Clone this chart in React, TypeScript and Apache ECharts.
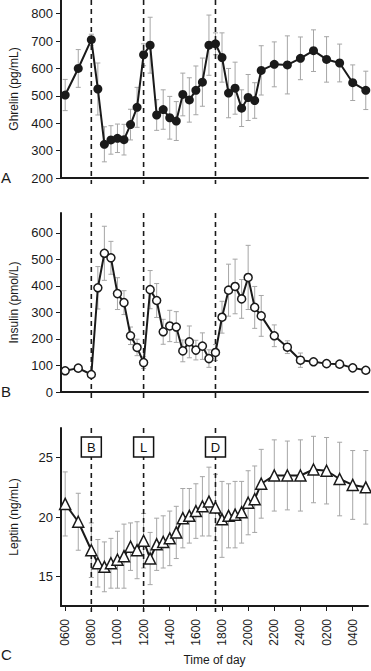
import React, { useEffect, useRef } from "react";
import * as echarts from "echarts";

// Sampling times (hours since midnight of day 1; >24 = next day)
const times = [
  6, 7, 8, 8.5, 9, 9.5, 10, 10.5, 11, 11.5, 12, 12.5, 13, 13.5, 14, 14.5, 15,
  15.5, 16, 16.5, 17, 17.5, 18, 18.5, 19, 19.5, 20, 20.5, 21, 22, 23, 24, 25,
  26, 27, 28, 29,
];

const ghrelin = [
  503, 600, 705, 525, 323, 339, 345, 340, 395, 458, 650, 685, 430, 450, 420,
  408, 505, 485, 520, 550, 685, 690, 640, 510, 528, 455, 494, 483, 593, 615,
  613, 637, 665, 633, 620, 548, 520,
];
const ghrelinErr = [
  57, 69, 20, 95, 64, 52, 52, 56, 56, 73, 40, 102, 56, 72, 78, 71, 78, 81, 89,
  88, 110, 40, 90, 90, 95, 67, 84, 65, 90, 82, 106, 78, 76, 83, 69, 65, 70,
];

const insulin = [
  80, 90, 66, 393, 523, 506, 371, 337, 212, 168, 111, 386, 345, 227, 249, 245,
  155, 189, 158, 173, 126, 149, 282, 384, 398, 351, 432, 319, 287, 212, 169,
  120, 114, 107, 105, 91, 82,
];
const insulinErr = [
  6, 6, 6, 80, 102, 62, 60, 45, 33, 31, 22, 72, 64, 47, 59, 58, 41, 60, 37, 50,
  33, 30, 60, 98, 103, 73, 121, 79, 77, 41, 24, 27, 8, 8, 8, 8, 8,
];

const leptin = [
  21.1, 19.6, 17.2, 16.1, 15.8, 16.1, 16.4, 16.7, 17.5, 17.2, 18.0, 16.5, 17.7,
  17.9, 18.2, 18.7, 19.9, 20.1, 20.5, 20.9, 21.3, 20.8, 19.8, 20.1, 20.2, 20.4,
  21.2, 21.5, 22.8, 23.5, 23.5, 23.5, 24.0, 23.9, 23.2, 22.7, 22.5,
];
const leptinErr = [
  2.7, 2.4, 2.3, 2.0, 2.1, 2.1, 2.4, 2.7, 2.0, 2.4, 2.3, 2.2, 2.2, 2.2, 2.3,
  2.2, 2.5, 2.3, 2.3, 2.5, 2.9, 2.8, 3.2, 2.7, 2.8, 2.6, 2.7, 2.8, 2.9, 3.0,
  2.9, 3.0, 2.8, 2.8, 3.1, 2.9, 3.1,
];

const mealTimes = [8, 12, 17.5];
const mealLabels = ["B", "L", "D"];
const mealBoxY = 25.9;

const xTicks = [6, 8, 10, 12, 14, 16, 18, 20, 22, 24, 26, 28];
const ghrelinTicks = [200, 300, 400, 500, 600, 700, 800];
const insulinTicks = [0, 100, 200, 300, 400, 500, 600];
const leptinTicks = [15, 20, 25];

const FONT = "'Liberation Sans', Arial, Helvetica, sans-serif";
const INK = "#1a1a1a";

export default function App() {
  const ref = useRef<HTMLDivElement>(null);

  useEffect(() => {
    if (!ref.current) return;
    const chart = echarts.init(ref.current, undefined, { renderer: "svg" });

    const grids = [
      { left: 53, right: 3, top: 0, height: 178 },
      { left: 53, right: 3, top: 213, height: 179 },
      { left: 53, right: 3, top: 428, height: 178 },
    ];

    const xAxes = [0, 1, 2].map((i) => ({
      type: "value",
      gridIndex: i,
      min: 5.68,
      max: 29.17,
      axisLine: { show: true, onZero: false, lineStyle: { color: INK, width: 2 } },
      axisTick:
        i === 2
          ? { show: true, customValues: xTicks, length: 5, lineStyle: { color: INK, width: 1 } }
          : { show: false },
      axisLabel:
        i === 2
          ? {
              show: true,
              customValues: xTicks,
              rotate: 90,
              margin: 13,
              fontSize: 12,
              color: INK,
              fontFamily: FONT,
              formatter: (v: number) => {
                const h = v > 24 ? v - 24 : v;
                return String(h).padStart(2, "0") + "00";
              },
            }
          : { show: false },
      splitLine: { show: false },
      name: i === 2 ? "Time of day" : "",
      nameLocation: "middle",
      nameGap: 48,
      nameTextStyle: { fontSize: 12, color: INK, fontFamily: FONT },
    }));

    const yCommon = (i: number, min: number, max: number, ticks: number[], name: string) => ({
      type: "value",
      gridIndex: i,
      min,
      max,
      axisLine: { show: true, lineStyle: { color: INK, width: 2 } },
      axisTick: { show: true, customValues: ticks, length: 5, lineStyle: { color: INK, width: 1 } },
      axisLabel: {
        show: true,
        customValues: ticks,
        margin: 8,
        fontSize: 13,
        color: INK,
        fontFamily: FONT,
      },
      splitLine: { show: false },
      name,
      nameLocation: "middle",
      nameRotate: 90,
      nameGap: 41,
      nameTextStyle: { fontSize: 12, color: INK, fontFamily: FONT },
    });

    const yAxes = [
      yCommon(0, 200, 850, ghrelinTicks, "Ghrelin (pg/mL)"),
      yCommon(1, 0, 675, insulinTicks, "Insulin (pmol/L)"),
      yCommon(2, 12.5, 27.5, leptinTicks, "Leptin (ng/mL)"),
    ];

    const errSeries = (i: number, vals: number[], errs: number[]) => ({
      type: "custom",
      xAxisIndex: i,
      yAxisIndex: i,
      z: 1,
      silent: true,
      encode: { x: 0, y: 1 },
      data: times.map((t, k) => [t, vals[k], errs[k]]),
      renderItem: (params: any, api: any) => {
        const x = api.value(0);
        const y = api.value(1);
        const e = api.value(2);
        const hi = api.coord([x, y + e]);
        const lo = api.coord([x, y - e]);
        const hw = 2.5;
        const st = { stroke: "#a6a6a6", lineWidth: 1 };
        return {
          type: "group",
          children: [
            { type: "line", shape: { x1: hi[0], y1: hi[1], x2: lo[0], y2: lo[1] }, style: st },
            { type: "line", shape: { x1: hi[0] - hw, y1: hi[1], x2: hi[0] + hw, y2: hi[1] }, style: st },
            { type: "line", shape: { x1: lo[0] - hw, y1: lo[1], x2: lo[0] + hw, y2: lo[1] }, style: st },
          ],
        };
      },
    });

    const dashSeries = (i: number, yMin: number, yMax: number) => ({
      type: "custom",
      xAxisIndex: i,
      yAxisIndex: i,
      z: 2,
      silent: true,
      encode: { x: 0 },
      data: mealTimes.map((t) => [t]),
      renderItem: (params: any, api: any) => {
        const x = api.value(0);
        const top = api.coord([x, yMax]);
        const bot = api.coord([x, yMin]);
        return {
          type: "line",
          shape: { x1: top[0], y1: top[1], x2: bot[0], y2: bot[1] + 6 },
          style: { stroke: INK, lineWidth: 1.6, lineDash: [5, 4] },
        };
      },
    });

    const lineSeries = (i: number, vals: number[], symbol: string, size: number, filled: boolean) => ({
      type: "line",
      xAxisIndex: i,
      yAxisIndex: i,
      z: 3,
      data: times.map((t, k) => [t, vals[k]]),
      symbol,
      symbolSize: size,
      showAllSymbol: true,
      lineStyle: { color: INK, width: 2 },
      itemStyle: filled
        ? { color: INK, borderColor: INK, borderWidth: 0 }
        : { color: "#ffffff", borderColor: INK, borderWidth: 1.5 },
    });

    const boxSeries = {
      type: "custom",
      xAxisIndex: 2,
      yAxisIndex: 2,
      z: 5,
      silent: true,
      encode: { x: 0, y: 1 },
      data: mealTimes.map((t, k) => [t, mealBoxY, k]),
      renderItem: (params: any, api: any) => {
        const c = api.coord([api.value(0), api.value(1)]);
        const s = 20;
        return {
          type: "group",
          children: [
            {
              type: "rect",
              shape: { x: c[0] - s / 2, y: c[1] - s / 2, width: s, height: s },
              style: { fill: "#ffffff", stroke: "#111111", lineWidth: 1.5 },
            },
            {
              type: "text",
              x: c[0],
              y: c[1] + 0.5,
              style: {
                text: mealLabels[api.value(2)],
                fill: "#111111",
                fontSize: 13,
                fontFamily: FONT,
                align: "center",
                verticalAlign: "middle",
              },
            },
          ],
        };
      },
    };

    const option = {
      animation: false,
      textStyle: { fontFamily: FONT },
      grid: grids,
      xAxis: xAxes,
      yAxis: yAxes,
      series: [
        errSeries(0, ghrelin, ghrelinErr),
        dashSeries(0, 200, 850),
        lineSeries(0, ghrelin, "circle", 9, true),
        errSeries(1, insulin, insulinErr),
        dashSeries(1, 0, 675),
        lineSeries(1, insulin, "circle", 8, false),
        errSeries(2, leptin, leptinErr),
        dashSeries(2, 12.5, 27.5),
        lineSeries(2, leptin, "triangle", 11, false),
        boxSeries,
      ],
      graphic: [
        { type: "text", left: 1, top: 170, style: { text: "A", fontSize: 15, fill: INK, fontFamily: FONT } },
        { type: "text", left: 1, top: 384, style: { text: "B", fontSize: 15, fill: INK, fontFamily: FONT } },
        { type: "text", left: 1, top: 647, style: { text: "C", fontSize: 15, fill: INK, fontFamily: FONT } },
      ],
    };

    chart.setOption(option as any);
    return () => chart.dispose();
  }, []);

  return (
    <div
      ref={ref}
      style={{ position: "absolute", left: 0, top: 0, width: 371, height: 671, background: "#fff" }}
    />
  );
}
